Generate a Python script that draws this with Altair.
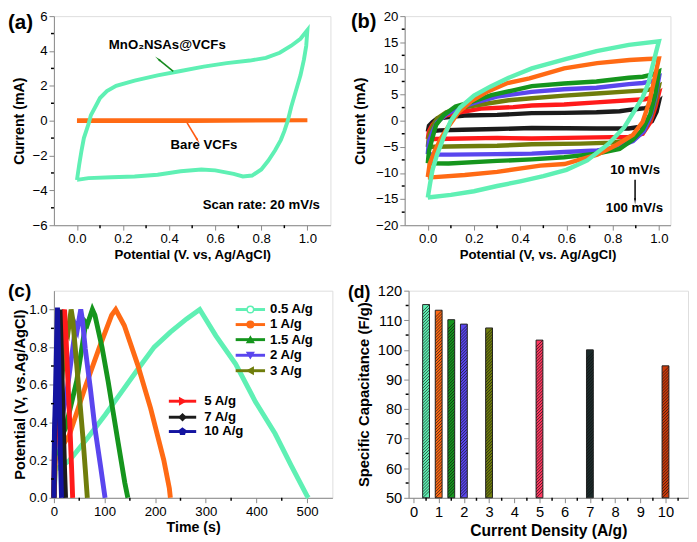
import altair as alt
import pandas as pd

FONT = "Liberation Sans"

# ---------------- (a) CV at 20 mV/s ----------------
a_mno2_v = [0.0, 0.01, 0.02, 0.03, 0.05, 0.06, 0.08, 0.1, 0.13, 0.17, 0.25, 0.35, 0.45, 0.55, 0.65, 0.75, 0.82, 0.88, 0.93, 0.97, 1.0,
            0.995, 0.985, 0.97, 0.95, 0.93, 0.915, 0.9, 0.885, 0.86, 0.83, 0.8, 0.76, 0.72, 0.68, 0.6, 0.54, 0.45, 0.35, 0.25, 0.15, 0.05, 0.0]
a_mno2_i = [-3.4, -2.5, -1.7, -1.0, -0.2, 0.3, 0.8, 1.3, 1.7, 2.0, 2.3, 2.6, 2.85, 3.1, 3.3, 3.45, 3.6, 3.9, 4.3, 4.7, 5.2,
            4.3, 3.5, 2.6, 1.7, 0.8, 0.0, -0.6, -1.1, -1.7, -2.3, -2.8, -3.15, -3.2, -3.05, -2.85, -2.8, -2.9, -3.1, -3.2, -3.25, -3.3, -3.4]
a_bare_v = [0.0, 0.5, 1.0, 0.5, 0.0]
a_bare_i = [0.02, 0.02, 0.02, -0.02, -0.02]

# ---------------- (b) CV at 10 ... 100 mV/s ----------------
b_names = ["10", "20", "30", "40", "50", "70", "100"]
b_colors = ["#1b1b1b", "#ff1a1a", "#6f7d0c", "#5a46ee", "#15951d", "#ff6a14", "#5ff0b4"]
b_10_v = [0.0, 0.005, 0.02, 0.04, 0.09, 0.16, 0.3, 0.45, 0.59, 0.73, 0.83, 0.88, 0.94, 0.985, 1.0,
          0.99, 0.97, 0.93, 0.87, 0.73, 0.6, 0.45, 0.3, 0.15, 0.05, 0.0]
b_10_i = [-2.1, -1.0, -0.3, 0.4, 0.7, 1.0, 1.1, 1.45, 1.5, 1.6, 1.8, 2.1, 2.4, 3.0, 3.6,
          1.7, -0.1, -1.1, -1.5, -1.5, -1.45, -1.4, -1.6, -1.75, -1.85, -2.1]
b_20_v = [0.0, 0.005, 0.02, 0.04, 0.08, 0.15, 0.23, 0.37, 0.45, 0.59, 0.73, 0.87, 0.94, 0.98, 1.0,
          0.985, 0.963, 0.93, 0.87, 0.73, 0.6, 0.45, 0.3, 0.15, 0.03, 0.0]
b_20_i = [-3.5, -2.0, -0.8, 0.1, 1.0, 1.7, 2.3, 2.6, 2.9, 3.1, 3.5, 3.9, 4.1, 4.6, 5.25,
          2.6, -0.3, -2.5, -3.1, -3.2, -3.3, -3.4, -3.3, -3.4, -3.5, -3.5]
b_30_v = [0.0, 0.005, 0.02, 0.04, 0.08, 0.15, 0.23, 0.35, 0.45, 0.59, 0.73, 0.87, 0.94, 0.98, 1.0,
          0.985, 0.963, 0.935, 0.888, 0.8, 0.66, 0.45, 0.3, 0.15, 0.03, 0.0]
b_30_i = [-5.05, -3.0, -1.2, 0.4, 1.6, 2.5, 3.1, 3.9, 4.3, 4.8, 5.2, 5.6, 5.8, 6.1, 6.6,
          3.6, 0.5, -2.0, -3.6, -4.2, -4.4, -4.5, -4.8, -4.9, -5.0, -5.05]
b_40_v = [0.0, 0.005, 0.02, 0.04, 0.08, 0.135, 0.2, 0.3, 0.45, 0.59, 0.73, 0.87, 0.93, 0.98, 1.0,
          0.985, 0.963, 0.935, 0.888, 0.818, 0.733, 0.59, 0.45, 0.3, 0.1, 0.03, 0.0]
b_40_i = [-6.4, -4.0, -2.2, -0.3, 1.2, 2.5, 3.4, 4.6, 5.5, 6.0, 6.3, 7.0, 7.2, 7.6, 8.2,
          4.5, 0.8, -2.0, -3.9, -5.1, -5.7, -6.0, -6.3, -6.4, -6.5, -6.5, -6.4]
b_50_v = [0.0, 0.005, 0.02, 0.036, 0.07, 0.12, 0.19, 0.275, 0.37, 0.45, 0.59, 0.73, 0.87, 0.93, 0.97, 1.0,
          0.985, 0.963, 0.93, 0.888, 0.83, 0.733, 0.59, 0.45, 0.3, 0.09, 0.0]
b_50_i = [-8.15, -5.8, -3.3, -0.8, 1.1, 2.7, 3.6, 4.9, 5.8, 6.6, 7.1, 7.5, 8.2, 8.4, 8.8, 9.4,
          5.1, 1.3, -1.7, -3.6, -5.4, -6.3, -7.0, -7.4, -7.7, -8.2, -8.15]
b_70_v = [0.0, 0.008, 0.03, 0.058, 0.094, 0.135, 0.19, 0.26, 0.345, 0.44, 0.59, 0.733, 0.873, 0.95, 1.0,
          0.98, 0.958, 0.93, 0.888, 0.818, 0.733, 0.592, 0.487, 0.3, 0.16, 0.03, 0.0]
b_70_i = [-10.8, -8.3, -5.8, -3.3, -0.8, 1.7, 3.8, 5.6, 7.2, 8.1, 10.0, 11.0, 11.6, 11.8, 11.9,
          7.85, 3.5, -0.2, -2.7, -4.6, -6.5, -8.3, -8.6, -9.8, -10.4, -10.8, -10.9]
b_100_v = [0.0, 0.01, 0.02, 0.04, 0.07, 0.1, 0.14, 0.2, 0.27, 0.35, 0.45, 0.6, 0.73, 0.87, 1.0,
           0.99, 0.97, 0.955, 0.93, 0.9, 0.85, 0.78, 0.69, 0.6, 0.5, 0.4, 0.3, 0.2, 0.1, 0.0]
b_100_i = [-14.7, -12.0, -9.5, -6.5, -3.0, 0.0, 2.5, 4.8, 6.5, 8.2, 10.0, 11.8, 13.3, 14.5, 15.2,
           13.5, 10.0, 7.2, 4.5, 2.3, -1.3, -4.5, -7.6, -9.4, -10.6, -11.6, -12.5, -13.5, -14.2, -14.7]
b_loops_v = [b_10_v, b_20_v, b_30_v, b_40_v, b_50_v, b_70_v, b_100_v]
b_loops_i = [b_10_i, b_20_i, b_30_i, b_40_i, b_50_i, b_70_i, b_100_i]

# ---------------- (c) GCD curves ----------------
c_names = ["0.5 A/g", "1 A/g", "1.5 A/g", "2 A/g", "3 A/g", "5 A/g", "7 A/g", "10 A/g"]
c_colors = ["#5ff0b4", "#ff6a14", "#15951d", "#5a46ee", "#6f7d0c", "#ff1a1a", "#1b1b1b", "#1414a0"]
c_05_t = [0, 3, 30, 68, 101, 133, 165, 198, 230, 262, 288, 320, 359, 398, 437, 469, 500, 503]
c_05_v = [0.0, 0.15, 0.196, 0.323, 0.44, 0.56, 0.68, 0.80, 0.88, 0.95, 1.0, 0.86, 0.71, 0.51, 0.34, 0.17, 0.01, 0.0]
c_1_t = [0, 3, 15, 30, 62, 90, 114, 122, 139, 165, 191, 217, 228, 230]
c_1_v = [0.0, 0.2, 0.27, 0.33, 0.59, 0.8, 0.97, 1.0, 0.915, 0.71, 0.475, 0.2, 0.05, 0.0]
c_15_t = [0, 2, 10, 23, 45, 63, 66, 76, 81, 95, 107, 127, 140, 146]
c_15_v = [0.0, 0.22, 0.3, 0.37, 0.62, 0.93, 0.92, 1.0, 0.97, 0.8, 0.62, 0.29, 0.08, 0.0]
c_2_t = [0, 2, 10, 25, 40, 43, 46, 53, 56, 62, 72, 81, 92, 101]
c_2_v = [0.0, 0.25, 0.35, 0.55, 0.85, 0.91, 0.89, 1.0, 0.95, 0.79, 0.58, 0.37, 0.17, 0.0]
c_3_t = [0, 2, 8, 18, 25, 28, 34, 37, 42, 50, 57, 62, 66]
c_3_v = [0.0, 0.3, 0.45, 0.7, 0.9, 0.88, 1.0, 0.95, 0.8, 0.55, 0.33, 0.15, 0.0]
c_5_t = [0, 1, 5, 12, 18, 21, 24, 28, 32, 35, 37]
c_5_v = [0.0, 0.25, 0.4, 0.7, 0.95, 1.0, 0.85, 0.6, 0.35, 0.15, 0.0]
c_7_t = [0, 1, 4, 8, 12, 15, 18, 21, 23]
c_7_v = [0.0, 0.3, 0.5, 0.75, 1.0, 0.75, 0.45, 0.15, 0.0]
c_10_t = [0, 1, 3, 5, 7, 9, 11, 13, 15]
c_10_v = [0.0, 0.35, 0.55, 0.8, 1.01, 0.8, 0.5, 0.2, 0.0]
c_curves_t = [c_05_t, c_1_t, c_15_t, c_2_t, c_3_t, c_5_t, c_7_t, c_10_t]
c_curves_v = [c_05_v, c_1_v, c_15_v, c_2_v, c_3_v, c_5_v, c_7_v, c_10_v]
c_shapes = ["circle", "circle", "triangle-up", "triangle-down", "triangle-left", "triangle-right", "diamond",
            "M0,-1L0.951,-0.309L0.588,0.809L-0.588,0.809L-0.951,-0.309Z"]
c_fills = ["#ffffff", "#ff6a14", "#15951d", "#5a46ee", "#6f7d0c", "#ff1a1a", "#1b1b1b", "#1414a0"]
# legend layout (in data units of panel c)
c_leg_y = [1.0, 0.92, 0.84, 0.757, 0.675, 0.513, 0.428, 0.352]
c_leg_x1 = [359, 359, 359, 359, 359, 227, 227, 227]
c_leg_x2 = [417, 417, 417, 417, 417, 281, 281, 281]
c_leg_xt = [427, 427, 427, 427, 427, 297, 297, 297]

# ---------------- (d) specific capacitance ----------------
d_density = [0.5, 1, 1.5, 2, 3, 5, 7, 10]
d_capac = [115.3, 113.4, 110.2, 108.7, 107.4, 103.3, 100.0, 94.6]
d_colors = ["#5ff0b4", "#ff6a14", "#15951d", "#5a46ee", "#6f7d0c", "#ff3860", "#1b2a2a", "#cc3a0a"]

# ---------------- ticks ----------------
a_x_major = [0.0, 0.2, 0.4, 0.6, 0.8, 1.0]
a_x_minor = [0.1, 0.3, 0.5, 0.7, 0.9]
a_y_major = [-6, -4, -2, 0, 2, 4, 6]
a_y_minor = [-5, -3, -1, 1, 3, 5]
b_y_major = [-20, -15, -10, -5, 0, 5, 10, 15, 20]
b_y_minor = [-17.5, -12.5, -7.5, -2.5, 2.5, 7.5, 12.5, 17.5]
c_x_major = [0, 100, 200, 300, 400, 500]
c_x_minor = [50, 150, 250, 350, 450]
c_y_major = [0.0, 0.2, 0.4, 0.6, 0.8, 1.0]
c_y_minor = [0.1, 0.3, 0.5, 0.7, 0.9]
d_x_major = [0, 1, 2, 3, 4, 5, 6, 7, 8, 9, 10]
d_x_minor = [0.5, 1.5, 2.5, 3.5, 4.5, 5.5, 6.5, 7.5, 8.5, 9.5, 10.5]
d_y_major = [50, 60, 70, 80, 90, 100, 110, 120]
d_y_minor = [55, 65, 75, 85, 95, 105, 115]


def mk_axis(title, values, fmt, lsize, tsize, tpad):
    return alt.Axis(title=title, values=values, format=fmt, tickSize=5, ticks=True, labelOverlap=False,
                    labelFlush=False, labelBound=False, labelFontSize=lsize, titleFontSize=tsize,
                    titlePadding=tpad, labelPadding=2, grid=False)


def enc_factory(channel, domain, axis):
    scale = alt.Scale(domain=domain, nice=False, zero=False)
    if channel == "x":
        return lambda f: alt.X(f, scale=scale, axis=axis)
    return lambda f: alt.Y(f, scale=scale, axis=axis)


def minor_x(X, field, vals, height):
    return alt.Chart(pd.DataFrame({field: vals})).mark_rule(color="black", strokeWidth=1.5).encode(
        x=X(field + ":Q"), y=alt.value(height), y2=alt.value(height + 3))


def minor_y(Y, field, vals):
    return alt.Chart(pd.DataFrame({field: vals})).mark_rule(color="black", strokeWidth=1.5).encode(
        y=Y(field + ":Q"), x=alt.value(0), x2=alt.value(-3))


def panel_label(txt, dx, dy, size):
    return alt.Chart(pd.DataFrame({"t": [txt]})).mark_text(
        font=FONT, fontWeight="bold", fontSize=size, align="left", baseline="top", color="black"
    ).encode(text="t:N", x=alt.value(dx), y=alt.value(dy))


def spacer(dx, dy):
    return alt.Chart(pd.DataFrame({"t": ["."]})).mark_text(
        font=FONT, fontSize=6, align="left", baseline="top", opacity=0
    ).encode(text="t:N", x=alt.value(dx), y=alt.value(dy))


def arrow(X, Y, fx, fy, x0, y0, x1, y1, color, angle, size=60):
    df = pd.DataFrame({fx: [x0], fy: [y0], "tx": [x1], "ty": [y1]})
    dh = pd.DataFrame({fx: [x1], fy: [y1]})
    rule = alt.Chart(df).mark_rule(color=color, strokeWidth=1.6).encode(
        x=X(fx + ":Q"), y=Y(fy + ":Q"), x2="tx:Q", y2="ty:Q")
    head = alt.Chart(dh).mark_point(shape="wedge", filled=True, color=color, size=size, angle=angle, opacity=1).encode(
        x=X(fx + ":Q"), y=Y(fy + ":Q"))
    return rule, head


# ====== panel a ======
HA = 214
XA = enc_factory("x", [-0.1, 1.1], mk_axis("Potential (V. vs, Ag/AgCl)", a_x_major, ".1f", 13.5, 13.5, 3))
YA = enc_factory("y", [-6, 6], mk_axis("Current (mA)", a_y_major, "d", 13.5, 14.5, 6))
rows = []
for k, (v, i) in enumerate(zip(a_bare_v, a_bare_i)):
    rows.append({"sa": "Bare VCFs", "k": k, "v": v, "i": i})
for k, (v, i) in enumerate(zip(a_mno2_v, a_mno2_i)):
    rows.append({"sa": "MnO2NSAs@VCFs", "k": k, "v": v, "i": i})
a_df = pd.DataFrame(rows)
a_lines = alt.Chart(a_df).mark_line(strokeWidth=4).encode(
    x=XA("v:Q"), y=YA("i:Q"), order="k:Q",
    color=alt.Color("sa:N", scale=alt.Scale(domain=["Bare VCFs", "MnO2NSAs@VCFs"], range=["#ff6a14", "#5ff0b4"]), legend=None),
)
a_text_df = pd.DataFrame({
    "v": [0.392, 0.551, 0.80],
    "i": [4.33, -1.43, -4.85],
    "t": ["MnO\u2082NSAs@VCFs", "Bare VCFs", "Scan rate: 20 mV/s"],
})
a_text = alt.Chart(a_text_df).mark_text(font=FONT, fontWeight="bold", fontSize=13.5, color="black").encode(
    x=XA("v:Q"), y=YA("i:Q"), text="t:N")
ar1 = arrow(XA, YA, "v", "i", 0.418, 2.83, 0.354, 3.52, "#168a1e", 309)
ar2 = arrow(XA, YA, "v", "i", 0.478, -0.13, 0.523, -1.11, "#ff5a10", 149)
panel_a = alt.layer(
    a_lines, minor_x(XA, "v", a_x_minor, HA), minor_y(YA, "i", a_y_minor),
    a_text, *ar1, *ar2, panel_label("(a)", -47, -4, 21), spacer(-52, -20)
).properties(width=283, height=HA)

# ====== panel b ======
HB = 214
XB = enc_factory("x", [-0.1, 1.05], mk_axis("Potential (V, vs. Ag/AgCl)", a_x_major, ".1f", 13.5, 13.5, 3))
YB = enc_factory("y", [-20, 20], mk_axis("Current (mA)", b_y_major, "d", 13.5, 14.5, 8))
rows = []
for n, (vs, is_) in enumerate(zip(b_loops_v, b_loops_i)):
    for k, (v, i) in enumerate(zip(vs, is_)):
        rows.append({"n": n, "k": k, "v": v, "i": i})
b_df = pd.DataFrame(rows)
b_layers = []
for n in range(len(b_names)):
    b_layers.append(alt.Chart(b_df[b_df["n"] == n]).mark_line(strokeWidth=4.5, color=b_colors[n]).encode(
        x=XB("v:Q"), y=YB("i:Q"), order="k:Q"))
b_text_df = pd.DataFrame({"v": [0.897, 0.894], "i": [-9.4, -16.8], "t": ["10 mV/s", "100 mV/s"]})
b_text = alt.Chart(b_text_df).mark_text(font=FONT, fontWeight="bold", fontSize=13.5, color="black").encode(
    x=XB("v:Q"), y=YB("i:Q"), text="t:N")
ar3 = arrow(XB, YB, "v", "i", 0.897, -11.3, 0.897, -15.2, "#111111", 180)
panel_b = alt.layer(
    *b_layers, minor_x(XB, "v", a_x_minor, HB), minor_y(YB, "i", b_y_minor),
    b_text, *ar3, panel_label("(b)", -55, -4, 20.5)
).properties(width=272, height=HB)

# ====== panel c ======
HC = 212
XC = enc_factory("x", [0, 550], mk_axis("Time (s)", c_x_major, "d", 13.5, 14.5, 3))
YC = enc_factory("y", [0, 1.1], mk_axis("Potential (V, vs.Ag/AgCl)", c_y_major, ".1f", 13.5, 15, 1))
rows = []
for n, (ts, vs) in enumerate(zip(c_curves_t, c_curves_v)):
    for k, (t, v) in enumerate(zip(ts, vs)):
        rows.append({"n": n, "k": k, "t": t, "v": v})
c_df = pd.DataFrame(rows)
c_layers = []
for n in range(len(c_names)):
    c_layers.append(alt.Chart(c_df[c_df["n"] == n]).mark_line(strokeWidth=5, color=c_colors[n]).encode(
        x=XC("t:Q"), y=YC("v:Q"), order="k:Q"))
col_scale = alt.Scale(domain=c_names, range=c_colors)
leg_line_df = pd.DataFrame({"sc": c_names, "v": c_leg_y, "t": c_leg_x1, "t2": c_leg_x2})
leg_pt_df = pd.DataFrame({"sc": c_names, "v": c_leg_y, "t": [(a + b) / 2 for a, b in zip(c_leg_x1, c_leg_x2)]})
leg_txt_df = pd.DataFrame({"sc": c_names, "v": c_leg_y, "t": c_leg_xt})
leg_lines = alt.Chart(leg_line_df).mark_rule(strokeWidth=3).encode(
    x=XC("t:Q"), x2="t2:Q", y=YC("v:Q"),
    color=alt.Color("sc:N", scale=col_scale, legend=None))
leg_pts = alt.Chart(leg_pt_df).mark_point(size=45, strokeWidth=1.5, opacity=1).encode(
    x=XC("t:Q"), y=YC("v:Q"),
    color=alt.Color("sc:N", scale=col_scale, legend=None),
    fill=alt.Fill("sc:N", scale=alt.Scale(domain=c_names, range=c_fills), legend=None),
    shape=alt.Shape("sc:N", scale=alt.Scale(domain=c_names, range=c_shapes), legend=None),
)
leg_txt = alt.Chart(leg_txt_df).mark_text(font=FONT, fontWeight="bold", fontSize=13.5, align="left", color="black").encode(
    x=XC("t:Q"), y=YC("v:Q"), text="sc:N")
panel_c = alt.layer(
    *c_layers, minor_x(XC, "t", c_x_minor, HC), minor_y(YC, "v", c_y_minor),
    leg_lines, leg_pts, leg_txt, panel_label("(c)", -47, -9, 19.5)
).properties(width=285, height=HC)

# ====== panel d ======
HD = 212
XD = enc_factory("x", [0, 10.7], mk_axis("Current Density (A/g)", d_x_major, "d", 15, 16, 4))
YD = enc_factory("y", [50, 120], mk_axis("Specific Capacitance (F/g)", d_y_major, "d", 15, 15.2, 6))
d_df = pd.DataFrame({"x": d_density, "y": d_capac, "sd": [str(v) for v in d_density]})
d_bars = alt.Chart(d_df).mark_bar(size=7, stroke="#222222", strokeWidth=1).encode(
    x=XD("x:Q"), y=YD("y:Q"), y2=alt.datum(50),
    color=alt.Color("sd:N", scale=alt.Scale(domain=[str(v) for v in d_density], range=d_colors), legend=None),
)
# hatch pattern drawn inside each bar (decoration)
hatch_rows = []
for xv, top in zip(d_density, d_capac):
    y0 = 50.0
    while y0 + 2.3 <= top:
        hatch_rows.append({"x": xv, "y": y0, "y2": y0 + 2.3})
        y0 += 1.0
hatch = alt.Chart(pd.DataFrame(hatch_rows)).mark_rule(
    color="#111111", strokeWidth=0.9, opacity=0.75, xOffset=-3.5, x2Offset=3.5
).encode(x=XD("x:Q"), x2="x:Q", y=YD("y:Q"), y2="y2:Q")
panel_d = alt.layer(
    d_bars, hatch, minor_x(XD, "x", d_x_minor, HD), minor_y(YD, "y", d_y_minor),
    panel_label("(d)", -62, -6, 18)
).properties(width=286, height=HD)

row1 = alt.hconcat(panel_a, panel_b, spacing=19).resolve_scale(color="independent")
row2 = alt.hconcat(panel_c, panel_d, spacing=14).resolve_scale(color="independent")
chart = alt.vconcat(row1, row2, spacing=18).resolve_scale(color="independent").properties(
    padding={"left": -6, "top": -19, "right": 0, "bottom": 0}
).configure_view(
    stroke="black", strokeWidth=2
).configure_axis(
    labelFont=FONT, titleFont=FONT, labelFontWeight="bold", titleFontWeight="bold",
    labelColor="black", titleColor="black", domainColor="black", domainWidth=2,
    tickColor="black", tickWidth=1.5,
).configure(background="white")

chart.save("out.html", embed_options={"renderer": "svg", "actions": False})
